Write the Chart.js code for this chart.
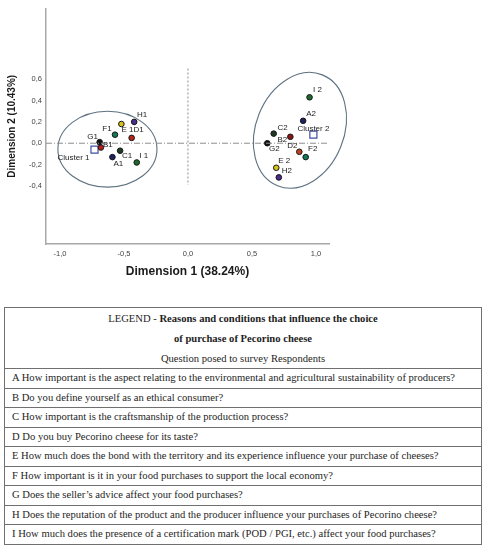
<!DOCTYPE html>
<html>
<head>
<meta charset="utf-8">
<script src="https://cdn.jsdelivr.net/npm/chart.js@4.4.0/dist/chart.umd.min.js"></script>
<style>
    body { margin: 0; background: #fff; width: 484px; height: 550px; overflow: hidden; }
    #wrap { position: absolute; left: 0; top: 0; width: 484px; height: 300px; }
    #legend {
        position: absolute; left: 4px; top: 307px; width: 478px;
        box-sizing: border-box; border: 1px solid #707070;
        font-family: "Liberation Serif", "DejaVu Serif", serif; color: #1e1e1e;
    }
    #legend .head { height: 59px; text-align: center; font-size: 10.6px; }
    #legend .head div { height: 20px; line-height: 20px; }
    #legend .head .l1 { margin-top: 1px; }
    #legend .row {
        box-sizing: border-box; height: 19.56px; line-height: 18.5px;
        border-top: 1px solid #707070; padding-left: 7px; font-size: 10.6px; white-space: nowrap;
    }
</style>
</head>
<body>
<div id="wrap"><canvas id="myChart" width="484" height="300"></canvas></div>
<div id="legend"></div>
<script>
// cluster 1 points
const names1 = ['A1', 'B1', 'C1', 'D1', 'E 1', 'F1', 'G1', 'H1', 'I 1'];
const dim1x1 = [-0.59, -0.68, -0.53, -0.44, -0.52, -0.57, -0.69, -0.42, -0.40];
const dim2y1 = [-0.13, -0.04, -0.07, 0.05, 0.18, 0.08, 0.01, 0.20, -0.18];

// cluster 2 points
const names2 = ['A2', 'B2', 'C2', 'D2', 'E 2', 'F2', 'G2', 'H2', 'I 2'];
const dim1x2 = [0.90, 0.80, 0.67, 0.87, 0.69, 0.92, 0.62, 0.71, 0.95];
const dim2y2 = [0.21, 0.06, 0.09, -0.08, -0.23, -0.13, 0.00, -0.32, 0.43];

// cluster centres
const clusterNames = ['Cluster 1', 'Cluster 2'];
const clusterX = [-0.73, 0.98];
const clusterY = [-0.06, 0.08];

const xTicks = [-1.0, -0.5, 0.0, 0.5, 1.0];
const yTicks = [-0.4, -0.2, 0.0, 0.2, 0.4, 0.6];

const xTitle = 'Dimension 1 (38.24%)';
const yTitle = 'Dimension 2 (10.43%)';

const questions = [
    'A How important is the aspect relating to the environmental and agricultural sustainability of producers?',
    'B Do you define yourself as an ethical consumer?',
    'C How important is the craftsmanship of the production process?',
    'D Do you buy Pecorino cheese for its taste?',
    'E How much does the bond with the territory and its experience influence your purchase of cheeses?',
    'F How important is it in your food purchases to support the local economy?',
    'G Does the seller\u2019s advice affect your food purchases?',
    'H Does the reputation of the product and the producer influence your purchases of Pecorino cheese?',
    'I How much does the presence of a certification mark (POD / PGI, etc.) affect your food purchases?'
];

// colours per letter A..I
var colors1 = ['#1c2160', '#b51c1c', '#1d3b22', '#b8241a', '#d6c21a', '#127a52', '#111111', '#4b2c8c', '#1c6b2c'];
var colors2 = ['#1c2160', '#8c1414', '#1d3b22', '#c2401e', '#d6c21a', '#127a52', '#111111', '#4b2c8c', '#1c6b2c'];

// label offsets in px (dx, dy) from the point
var off1 = [[6, 7], [7, -3], [7, 5], [7, -8], [6, 6], [-8, -6], [-7, -5], [8, -7], [7, -7]];
var off2 = [[8, -7], [-8, 3], [9, -6], [-7, -6], [8, -7], [7, -8], [7, 6], [8, -7], [8, -8]];
var offC = [[-21, 8], [0, -6]];

// ellipses round the clusters: centre, radii in data units, rotation in degrees
var ellipses = [
    { cx: -0.629, cy: -0.056, rx: 0.387, ry: 0.355, rot: 0 },
    { cx: 0.875, cy: 0.121, rx: 0.344, ry: 0.56, rot: 22 }
];

function fmt(v) {
    return v.toFixed(1).replace('.', ',');
}

function toPoints(xs, ys) {
    return xs.map((x, i) => ({ x: x, y: ys[i] }));
}

const xMin = -1.109, xMax = 1.102, yMin = -0.944, yMax = 1.262;

const data = {
    datasets: [
        {
            label: 'zero-h',
            type: 'line',
            data: [{ x: xMin, y: 0 }, { x: xMax, y: 0 }],
            borderColor: '#8e8e8e',
            borderWidth: 1,
            borderDash: [6, 2, 1, 2],
            pointRadius: 0
        },
        {
            label: 'zero-v',
            type: 'line',
            data: [{ x: 0, y: 0.70 }, { x: 0, y: -0.39 }],
            borderColor: '#8e8e8e',
            borderWidth: 1,
            borderDash: [2, 2],
            pointRadius: 0
        },
        {
            label: 'set1',
            data: toPoints(dim1x1, dim2y1),
            names: names1,
            offsets: off1,
            pointBackgroundColor: colors1,
            pointBorderColor: '#151515',
            pointBorderWidth: 1,
            pointRadius: 2.8
        },
        {
            label: 'set2',
            data: toPoints(dim1x2, dim2y2),
            names: names2,
            offsets: off2,
            pointBackgroundColor: colors2,
            pointBorderColor: '#151515',
            pointBorderWidth: 1,
            pointRadius: 2.8
        },
        {
            label: 'clusters',
            data: toPoints(clusterX, clusterY),
            names: clusterNames,
            offsets: offC,
            pointStyle: 'rect',
            pointBackgroundColor: '#ffffff',
            pointBorderColor: '#3d4fa3',
            pointBorderWidth: 1.2,
            pointRadius: 5
        }
    ]
};

const ellipsePlugin = {
    id: 'ellipses',
    beforeDatasetsDraw(chart) {
        const ctx = chart.ctx;
        const xs = chart.scales.x, ys = chart.scales.y;
        ctx.save();
        ctx.strokeStyle = '#5d7180';
        ctx.lineWidth = 1.1;
        ellipses.forEach(e => {
            const cx = xs.getPixelForValue(e.cx);
            const cy = ys.getPixelForValue(e.cy);
            const rx = Math.abs(xs.getPixelForValue(e.cx + e.rx) - cx);
            const ry = Math.abs(ys.getPixelForValue(e.cy + e.ry) - cy);
            ctx.beginPath();
            ctx.ellipse(cx, cy, rx, ry, e.rot * Math.PI / 180, 0, Math.PI * 2);
            ctx.stroke();
        });
        ctx.restore();
    }
};

const labelPlugin = {
    id: 'pointLabels',
    afterDatasetsDraw(chart) {
        const ctx = chart.ctx;
        ctx.save();
        ctx.font = '8px "Liberation Sans", Arial, sans-serif';
        ctx.fillStyle = '#222';
        ctx.textAlign = 'center';
        ctx.textBaseline = 'middle';
        chart.data.datasets.forEach((ds, i) => {
            if (!ds.names) return;
            chart.getDatasetMeta(i).data.forEach((pt, j) => {
                ctx.fillText(ds.names[j], pt.x + ds.offsets[j][0], pt.y + ds.offsets[j][1]);
            });
        });
        ctx.restore();
    }
};

const config = {
    type: 'scatter',
    data: data,
    options: {
        responsive: false,
        animation: false,
        layout: { padding: { top: 8, right: 155, left: 0, bottom: 0 } },
        plugins: { legend: { display: false }, tooltip: { enabled: false } },
        scales: {
            x: {
                type: 'linear',
                min: xMin,
                max: xMax,
                afterBuildTicks: scale => { scale.ticks = xTicks.map(v => ({ value: v })); },
                afterFit: scale => { scale.height = 56; },
                grid: { display: false, drawTicks: false },
                border: { display: true, color: '#a8a8a8', width: 1.5 },
                ticks: {
                    padding: 5,
                    color: '#444',
                    font: { family: 'Liberation Sans', size: 7.5 },
                    callback: v => fmt(v)
                },
                title: {
                    display: true,
                    text: xTitle,
                    color: '#1a1a1a',
                    font: { family: 'Liberation Sans', size: 12, weight: 'bold' },
                    padding: { top: 0, bottom: 21 }
                }
            },
            y: {
                type: 'linear',
                min: yMin,
                max: yMax,
                afterBuildTicks: scale => { scale.ticks = yTicks.map(v => ({ value: v })); },
                afterFit: scale => { scale.width = 46; },
                grid: { display: false, drawTicks: false },
                border: { display: true, color: '#a8a8a8', width: 1.5 },
                ticks: {
                    padding: 4,
                    color: '#444',
                    font: { family: 'Liberation Sans', size: 7.5 },
                    callback: v => fmt(v)
                },
                title: {
                    display: true,
                    text: yTitle,
                    color: '#1a1a1a',
                    font: { family: 'Liberation Sans', size: 10, weight: 'bold' },
                    padding: { top: 6, bottom: 0 }
                }
            }
        }
    },
    plugins: [ellipsePlugin, labelPlugin]
};

const myChart = new Chart(document.getElementById('myChart'), config);

// legend table under the chart
var legend = document.getElementById('legend');
var head = '<div class="head">' +
    '<div class="l1">LEGEND - <b>Reasons and conditions that influence the choice</b></div>' +
    '<div><b>of purchase of Pecorino cheese</b></div>' +
    '<div>Question posed to survey Respondents</div></div>';
var rows = questions.map(q => '<div class="row">' + q + '</div>').join('');
legend.innerHTML = head + rows;
</script>
</body>
</html>
